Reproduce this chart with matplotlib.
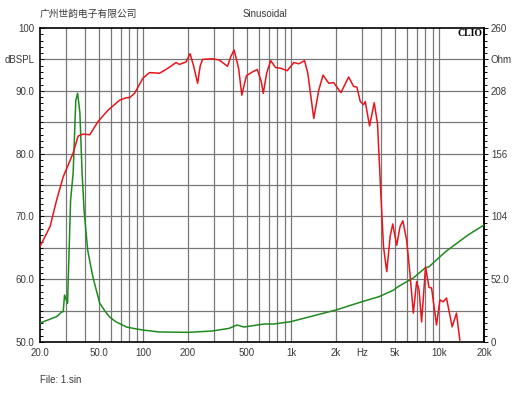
import numpy as np
import matplotlib
matplotlib.use("Agg")
import matplotlib.pyplot as plt
from matplotlib.ticker import FixedLocator, NullFormatter

plt.rcParams['font.family'] = ['Liberation Sans', 'Noto Sans CJK SC', 'DejaVu Sans']

# ---- SPL response (red), Hz / dBSPL ----
spl_freq = [20, 23.4, 25.9, 28.7, 33.5, 36.2, 39.1, 43.4, 49.3, 57.6, 69.0, 76.6,
            80.6, 87.1, 99.1, 109.9, 128.3, 142.3, 166.2, 174.9, 194, 206.4, 218,
            232.2, 242, 250.9, 291.5, 325, 369.6, 390, 410, 440, 462, 480, 496, 544,
            588, 625, 645, 680, 724, 782, 845, 936, 1039, 1122, 1226, 1290, 1415,
            1530, 1635, 1785, 1929, 2160, 2434, 2630, 2767, 2917, 3070, 3153, 3370,
            3624, 3814, 3977, 4186, 4405, 4643, 4834, 5143, 5420, 5660, 6004, 6330,
            6662, 7011, 7278, 7576, 8058, 8497, 8846, 9557, 10075, 10603, 11160,
            12190, 13030, 13730]
spl_db = [65.2, 68.4, 72.6, 76.3, 80.1, 82.8, 83.1, 83.0, 85.1, 86.9, 88.5, 88.9,
          88.9, 89.6, 92.0, 92.9, 92.8, 93.4, 94.5, 94.2, 94.6, 95.9, 94.0,
          91.2, 94.0, 95.0, 95.1, 94.9, 93.9, 95.5, 96.5, 93.5, 89.3, 91.0, 92.4, 93.0,
          93.4, 91.5, 89.6, 92.8, 94.8, 93.7, 93.6, 93.2, 94.5, 94.3, 94.8, 92.8, 85.6,
          90.1, 92.5, 91.2, 91.3, 89.7, 92.2, 90.7, 90.6, 88.3, 87.8, 88.3, 84.4,
          88.1, 84.8, 75.8, 65.2, 61.2, 66.8, 68.8, 65.4, 68.4, 69.3, 66.2, 60.7,
          54.6, 59.6, 58.3, 53.2, 62.0, 58.7, 58.6, 52.7, 56.7, 56.4, 57.0,
          52.4, 54.6, 50.3]

# ---- impedance (green), Hz / Ohm ----
imp_freq = [20, 25.9, 28.0, 28.7, 29.3, 30.7, 32.2, 33.5, 34.9, 35.9, 37.2, 38.5,
            39.7, 42.0, 45.5, 50.6, 55, 59.1, 65, 77.0, 88, 99, 128, 200, 291.5, 379,
            429, 478, 652, 762, 986, 2000, 3000, 3900, 4900, 5250, 6660, 7950, 8500,
            11000, 15600, 20000]
imp_ohm = [15.7, 21.0, 24.8, 25.1, 38.9, 32.0, 117.6, 140, 200, 206, 190, 140,
           109, 76, 54, 32.3, 25.5, 20.7, 16.8, 12.4, 11.0, 9.9, 8.3, 8.0, 9.1, 11.3,
           14.1, 12.4, 14.9, 14.9, 16.8, 26.5, 33.4, 37.5, 43, 45.8, 53, 61, 62.3,
           74.8, 88.6, 96.9]

x_ticks = [20, 50, 100, 200, 500, 1000, 2000, 3000, 5000, 10000, 20000]
x_labels = ['20.0', '50.0', '100', '200', '500', '1k', '2k', 'Hz', '5k', '10k', '20k']
y_ticks = [50, 60, 70, 80, 90, 95, 100]
y_labels = ['50.0', '60.0', '70.0', '80.0', '90.0', 'dBSPL', '100']
z_ticks = [0, 52, 104, 156, 208, 234, 260]
z_labels = ['0', '52.0', '104', '156', '208', 'Ohm', '260']

TXT = '#3a3a3a'


def ohm_to_db(z):
    return 50 + np.asarray(z) / 5.2


def db_to_ohm(d):
    return (np.asarray(d) - 50) * 5.2


fig = plt.figure(figsize=(5.30, 3.98), dpi=100)
ax = fig.add_axes([40 / 530, 1 - 342 / 398, 444 / 530, 314 / 398])

ax.set_xscale('log')
ax.set_xlim(20, 20000)
ax.set_ylim(50, 100)

# grid: every 1-2-3..9 per decade, every 5 dB
grid_f = [m * 10 ** e for e in range(1, 5) for m in range(1, 10)]
grid_f = [f for f in grid_f if 20 < f < 20000]
for f in grid_f:
    ax.axvline(f, color='#787878', lw=0.9, zorder=1)
for d in range(55, 100, 5):
    ax.axhline(d, color='#787878', lw=0.9, zorder=1)

ax.plot(imp_freq, ohm_to_db(imp_ohm), color='#1e8a1e', lw=1.1, zorder=3)
ax.plot(spl_freq, spl_db, color='#e8141c', lw=1.1, zorder=4)

ax.xaxis.set_major_locator(FixedLocator(x_ticks))
ax.xaxis.set_minor_locator(FixedLocator([]))
ax.xaxis.set_minor_formatter(NullFormatter())
ax.set_xticklabels(x_labels)
ax.tick_params(axis='x', length=0, pad=4, labelsize=7, labelcolor=TXT)

ax.yaxis.set_major_locator(FixedLocator(y_ticks))
ax.set_yticklabels(y_labels)
ax.yaxis.set_minor_locator(FixedLocator(list(range(51, 100))))
ax.tick_params(axis='y', which='major', direction='in', length=3, width=0.7,
               pad=4, labelsize=7, labelcolor=TXT)
ax.tick_params(axis='y', which='minor', direction='in', length=2.5, width=0.7)

sec = ax.secondary_yaxis('right', functions=(db_to_ohm, ohm_to_db))
sec.yaxis.set_major_locator(FixedLocator(z_ticks))
sec.set_yticklabels(z_labels)
sec.yaxis.set_minor_locator(FixedLocator([i * 5.2 for i in range(1, 50)]))
sec.tick_params(axis='y', which='major', direction='out', length=3, width=0.7,
                pad=2, labelsize=7, labelcolor=TXT)
sec.tick_params(axis='y', which='minor', direction='out', length=2.5, width=0.7)
sec.spines['right'].set_linewidth(1.2)

for s in ax.spines.values():
    s.set_linewidth(1.2)
    s.set_color('black')

fig.text(40 / 530, 1 - 14 / 398, '广州世韵电子有限公司', fontsize=7, color=TXT,
         ha='left', va='center')
fig.text(265 / 530, 1 - 14 / 398, 'Sinusoidal', fontsize=7, color=TXT,
         ha='center', va='center')
fig.text(40 / 530, 1 - 380 / 398, 'File: 1.sin', fontsize=7, color=TXT,
         ha='left', va='center')
fig.text(482 / 530, 1 - 33 / 398, 'CLIO', fontsize=7, fontweight='bold',
         family='Liberation Serif', color='black', ha='right', va='center')

fig.savefig('out.png', dpi=100, facecolor='white')
